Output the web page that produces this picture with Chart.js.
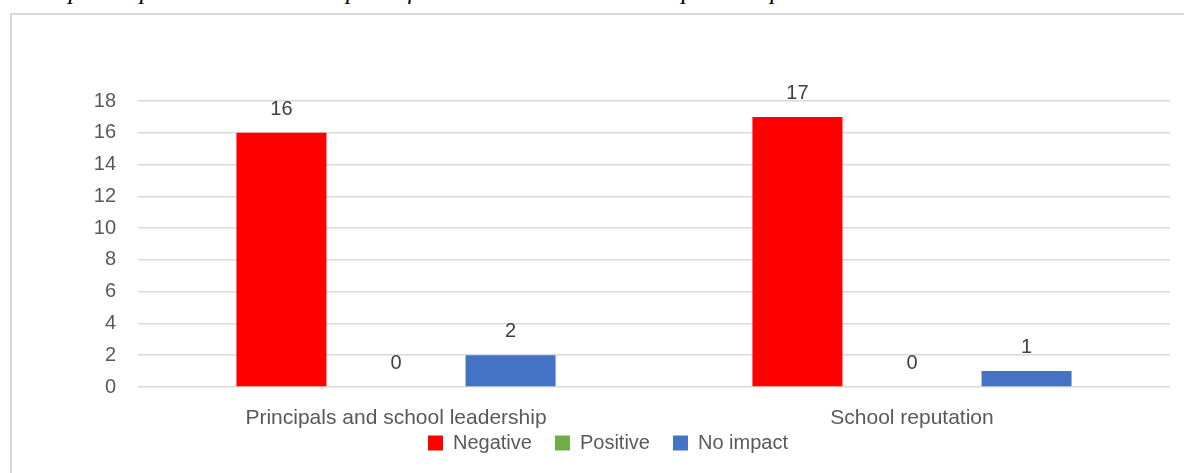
<!DOCTYPE html>
<html>
<head>
<meta charset="utf-8">
<script src="https://cdn.jsdelivr.net/npm/chart.js@4"></script>
<style>
  html, body { margin: 0; padding: 0; background: #fff; overflow: hidden; }
  #title {
    position: absolute; left: 6px; top: -22px; white-space: nowrap;
    font-family: "Liberation Serif", serif; font-style: italic; font-size: 25px; line-height: 25px; color: #000;
  }
  #frame {
    position: absolute; left: 10px; top: 13px; width: 1200px; height: 500px;
    border: 2px solid #d9d9d9; box-sizing: border-box;
  }
  #wrap { position: absolute; left: 0; top: 0; width: 1184px; height: 473px; }
</style>
</head>
<body>
<div id="title">Principals' Opinions about the Impact of NCE on School Leadership and Reputation.</div>
<div id="frame"></div>
<div id="wrap"><canvas id="chart" width="1184" height="473"></canvas></div>
<script>
// データ
const categories = ["Principals and school leadership", "School reputation"];
const negative = [16, 17];
const positive = [0, 0];
const noImpact = [2, 1];
const yTicks = [0, 2, 4, 6, 8, 10, 12, 14, 16, 18];

const FONT = "Liberation Sans";

// 棒の上に数値を描く
const valueLabels = {
  id: "valueLabels",
  afterDatasetsDraw(chart) {
    const ctx = chart.ctx;
    ctx.save();
    ctx.font = "20px " + FONT;
    ctx.fillStyle = "#404040";
    ctx.textAlign = "center";
    ctx.textBaseline = "alphabetic";
    chart.data.datasets.forEach((ds, i) => {
      chart.getDatasetMeta(i).data.forEach((bar, j) => {
        ctx.fillText(String(ds.data[j]), bar.x, bar.y - 18);
      });
    });
    ctx.restore();
  }
};

new Chart(document.getElementById("chart"), {
  type: "bar",
  data: {
    labels: categories,
    datasets: [
      { label: "Negative", data: negative, backgroundColor: "#FF0000" },
      { label: "Positive", data: positive, backgroundColor: "#70AD47" },
      { label: "No impact", data: noImpact, backgroundColor: "#4472C4" }
    ]
  },
  options: {
    responsive: false,
    animation: false,
    categoryPercentage: 0.666,
    barPercentage: 0.786,
    layout: { padding: { left: 46, right: 14, top: 101, bottom: 10 } },
    scales: {
      x: {
        grid: { display: false, drawTicks: false },
        border: { display: false },
        ticks: { color: "#595959", font: { family: FONT, size: 21, lineHeight: 1.0 }, padding: 21 },
        afterFit(scale) { scale.height = 43; }
      },
      y: {
        min: 0,
        max: 18,
        afterBuildTicks(scale) { scale.ticks = yTicks.map(v => ({ value: v })); },
        grid: { color: "#d9d9d9", lineWidth: 1.5, drawTicks: false },
        border: { display: false },
        ticks: { color: "#595959", font: { family: FONT, size: 20 }, padding: 22 },
        afterFit(scale) { scale.width = 92; }
      }
    },
    plugins: {
      legend: {
        position: "bottom",
        labels: {
          color: "#595959",
          font: { family: FONT, size: 20 },
          boxWidth: 15,
          boxHeight: 15,
          padding: 3,
          // 項目の間をあける
          generateLabels(chart) {
            const items = Chart.defaults.plugins.legend.labels.generateLabels(chart);
            items.forEach((it, i) => { if (i < items.length - 1) it.text += "\u2003"; });
            return items;
          }
        }
      },
      tooltip: { enabled: false }
    }
  },
  plugins: [valueLabels]
});
</script>
</body>
</html>
